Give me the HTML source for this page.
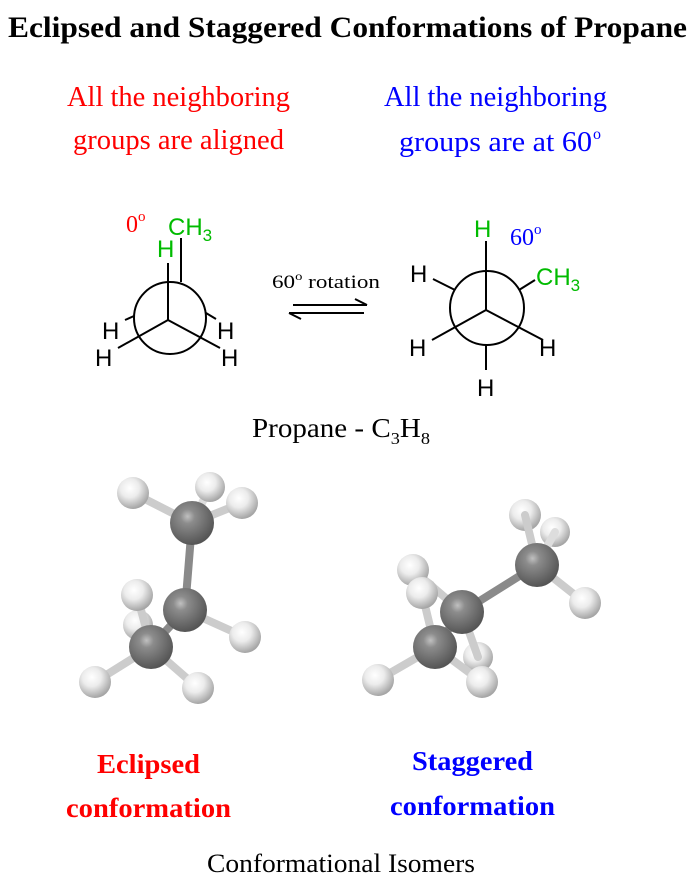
<!DOCTYPE html>
<html><head><meta charset="utf-8"><style>
html,body{margin:0;padding:0;background:#fff}
svg{display:block}
.s{font-family:"Liberation Serif",serif}
.a{font-family:"Liberation Sans",sans-serif}
</style></head><body>
<svg width="699" height="891" viewBox="0 0 699 891" xmlns="http://www.w3.org/2000/svg">
<defs>
<radialGradient id="gc" cx="0.4" cy="0.35" r="0.65"><stop offset="0" stop-color="#c0c0c0"/><stop offset="0.25" stop-color="#8c8c8c"/><stop offset="1" stop-color="#555"/></radialGradient>
<radialGradient id="gh" cx="0.4" cy="0.35" r="0.65"><stop offset="0" stop-color="#ffffff"/><stop offset="0.45" stop-color="#ececec"/><stop offset="1" stop-color="#a5a5a5"/></radialGradient>
</defs>
<text class="s" x="8" y="37" font-size="30" font-weight="bold" textLength="679" lengthAdjust="spacingAndGlyphs">Eclipsed and Staggered Conformations of Propane</text>
<g class="s" font-size="28" fill="#f00">
<text x="67" y="106" textLength="223" lengthAdjust="spacingAndGlyphs">All the neighboring</text>
<text x="73" y="149" textLength="211" lengthAdjust="spacingAndGlyphs">groups are aligned</text>
</g>
<g class="s" font-size="28" fill="#00f">
<text x="384" y="106" textLength="223" lengthAdjust="spacingAndGlyphs">All the neighboring</text>
<text x="399" y="151" textLength="193" lengthAdjust="spacingAndGlyphs">groups are at 60</text>
<text x="593" y="139" font-size="16">o</text>
</g>

<!-- Left Newman -->
<g stroke="#000" stroke-width="2" fill="none">
<circle cx="170" cy="318" r="36"/>
<line x1="168" y1="320" x2="168" y2="263"/>
<line x1="168" y1="320" x2="118" y2="348"/>
<line x1="168" y1="320" x2="220" y2="348"/>
<line x1="181" y1="282" x2="181" y2="238"/>
<line x1="134" y1="316" x2="125" y2="320"/>
<line x1="206" y1="313" x2="216" y2="319"/>
</g>
<g class="a" font-size="24">
<text x="126" y="232" fill="#f00" font-family="Liberation Serif,serif" font-size="24">0</text>
<text x="138" y="221" fill="#f00" font-family="Liberation Serif,serif" font-size="15">o</text>
<text x="168" y="235" fill="#0b0">CH<tspan font-size="17" dy="6">3</tspan></text>
<text x="157" y="257" fill="#0b0">H</text>
<text x="102" y="339">H</text>
<text x="95" y="366">H</text>
<text x="217" y="339">H</text>
<text x="221" y="366">H</text>
</g>

<!-- arrows -->
<text class="s" x="272" y="288" font-size="19" textLength="108" lengthAdjust="spacingAndGlyphs">60<tspan font-size="12" dy="-8">o</tspan><tspan dy="8"> rotation</tspan></text>
<g stroke="#000" stroke-width="2" fill="none">
<line x1="293" y1="305" x2="367" y2="305"/>
<line x1="355" y1="299" x2="367" y2="305"/>
<line x1="289" y1="313" x2="364" y2="313"/>
<line x1="289" y1="313" x2="301" y2="319"/>
</g>

<!-- Right Newman -->
<g stroke="#000" stroke-width="2" fill="none">
<circle cx="487" cy="308" r="37"/>
<line x1="486" y1="310" x2="486" y2="241"/>
<line x1="486" y1="310" x2="432" y2="340"/>
<line x1="486" y1="310" x2="543" y2="340"/>
<line x1="455" y1="290" x2="433" y2="279"/>
<line x1="519" y1="290" x2="535" y2="280"/>
<line x1="486" y1="345" x2="486" y2="370"/>
</g>
<g class="a" font-size="24">
<text x="474" y="237" fill="#0b0">H</text>
<text x="510" y="245" fill="#00f" font-family="Liberation Serif,serif" font-size="24">60</text>
<text x="534" y="234" fill="#00f" font-family="Liberation Serif,serif" font-size="15">o</text>
<text x="536" y="285" fill="#0b0">CH<tspan font-size="17" dy="6">3</tspan></text>
<text x="410" y="282">H</text>
<text x="409" y="356">H</text>
<text x="539" y="356">H</text>
<text x="477" y="396">H</text>
</g>

<text class="s" x="252" y="437" font-size="27" textLength="178" lengthAdjust="spacingAndGlyphs">Propane - C<tspan font-size="17" dy="7">3</tspan><tspan dy="-7">H</tspan><tspan font-size="17" dy="7">8</tspan></text>

<!-- Left molecule -->
<g stroke-linecap="round">
<line x1="210" y1="487" x2="192" y2="523" stroke="#ddd" stroke-width="8"/>
<circle cx="210" cy="487" r="15" fill="url(#gh)"/>
<line x1="133" y1="493" x2="192" y2="523" stroke="#ccc" stroke-width="8"/>
<line x1="242" y1="503" x2="192" y2="523" stroke="#ccc" stroke-width="8"/>
<line x1="192" y1="523" x2="185" y2="610" stroke="#8a8a8a" stroke-width="8"/>
<circle cx="133" cy="493" r="16" fill="url(#gh)"/>
<circle cx="192" cy="523" r="22" fill="url(#gc)"/>
<circle cx="242" cy="503" r="16" fill="url(#gh)"/>
<circle cx="138" cy="625" r="15" fill="url(#gh)"/>
<line x1="137" y1="595" x2="151" y2="647" stroke="#ccc" stroke-width="8"/>
<line x1="185" y1="610" x2="245" y2="637" stroke="#ccc" stroke-width="8"/>
<circle cx="137" cy="595" r="16" fill="url(#gh)"/>
<circle cx="245" cy="637" r="16" fill="url(#gh)"/>
<line x1="185" y1="610" x2="151" y2="647" stroke="#8a8a8a" stroke-width="8"/>
<circle cx="185" cy="610" r="22" fill="url(#gc)"/>
<line x1="151" y1="647" x2="95" y2="682" stroke="#ccc" stroke-width="8"/>
<line x1="151" y1="647" x2="198" y2="688" stroke="#ccc" stroke-width="8"/>
<circle cx="151" cy="647" r="22" fill="url(#gc)"/>
<circle cx="95" cy="682" r="16" fill="url(#gh)"/>
<circle cx="198" cy="688" r="16" fill="url(#gh)"/>
</g>

<!-- Right molecule -->
<g stroke-linecap="round">
<circle cx="555" cy="532" r="15" fill="url(#gh)"/>
<line x1="555" y1="532" x2="537" y2="565" stroke="#ddd" stroke-width="8"/>
<circle cx="525" cy="515" r="16" fill="url(#gh)"/>
<line x1="525" y1="515" x2="537" y2="565" stroke="#ccc" stroke-width="8"/>
<line x1="537" y1="565" x2="585" y2="603" stroke="#ccc" stroke-width="8"/>
<line x1="537" y1="565" x2="462" y2="612" stroke="#8a8a8a" stroke-width="8"/>
<circle cx="537" cy="565" r="22" fill="url(#gc)"/>
<circle cx="585" cy="603" r="16" fill="url(#gh)"/>
<circle cx="478" cy="657" r="15" fill="url(#gh)"/>
<line x1="413" y1="570" x2="462" y2="612" stroke="#ccc" stroke-width="8"/>
<line x1="462" y1="612" x2="478" y2="657" stroke="#ccc" stroke-width="8"/>
<circle cx="413" cy="570" r="16" fill="url(#gh)"/>
<line x1="422" y1="593" x2="435" y2="647" stroke="#ccc" stroke-width="8"/>
<circle cx="422" cy="593" r="16" fill="url(#gh)"/>
<line x1="462" y1="612" x2="435" y2="647" stroke="#8a8a8a" stroke-width="8"/>
<circle cx="462" cy="612" r="22" fill="url(#gc)"/>
<line x1="435" y1="647" x2="378" y2="680" stroke="#ccc" stroke-width="8"/>
<line x1="435" y1="647" x2="482" y2="682" stroke="#ccc" stroke-width="8"/>
<circle cx="435" cy="647" r="22" fill="url(#gc)"/>
<circle cx="378" cy="680" r="16" fill="url(#gh)"/>
<circle cx="482" cy="682" r="16" fill="url(#gh)"/>
</g>

<g class="s" font-size="27" font-weight="bold">
<text x="97" y="773" fill="#f00" textLength="103" lengthAdjust="spacingAndGlyphs">Eclipsed</text>
<text x="66" y="817" fill="#f00" textLength="165" lengthAdjust="spacingAndGlyphs">conformation</text>
<text x="412" y="770" fill="#00f" textLength="121" lengthAdjust="spacingAndGlyphs">Staggered</text>
<text x="390" y="815" fill="#00f" textLength="165" lengthAdjust="spacingAndGlyphs">conformation</text>
</g>
<text class="s" x="207" y="872" font-size="26" textLength="268" lengthAdjust="spacingAndGlyphs">Conformational Isomers</text>
</svg>
</body></html>
